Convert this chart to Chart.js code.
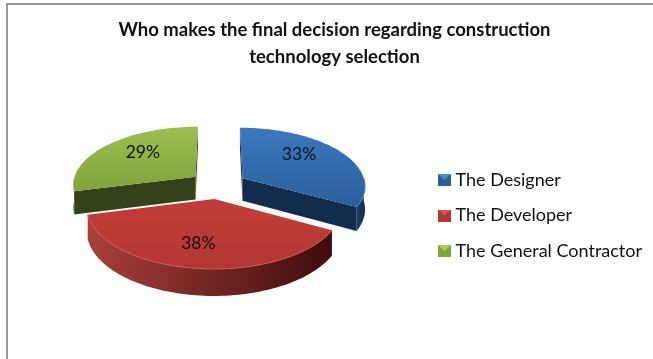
<!DOCTYPE html>
<html>
<head>
<meta charset="utf-8">
<script src="https://cdn.jsdelivr.net/npm/chart.js@4"></script>
<style>
    html, body { margin: 0; background: #fff; }
    canvas { display: block; }
</style>
</head>
<body>
<canvas id="canvas1" width="653" height="359"></canvas>
<script>
var categories = ["The Designer", "The Developer", "The General Contractor"];
var shares = [33, 38, 29];
var titleLines = ["Who makes the final decision regarding construction", "technology selection"];

// top, top-front, side wall, radial wall and rim for each slice
var topColors = [["#3a78bd", "#2c5f9b"], ["#bf3c38", "#b23733"], ["#9cbf4e", "#7fa43f"]];
var wallColors = [["#1b3d6b", "#132c4e"], ["#a8403b", "#3f0c0c"], ["#3b4c1d", "#33421a"]];
var sideColors = ["#132c4e", "#4a1311", "#33421a"];
var rimColors = ["#4a8ace", "#dc5650", "#a9cc5c"];

// the tilted disc: centre, half axes, perspective strength, wall height
var disc = { cx: 218, cy: 185, kx: 123, ky: 58, persp: 0.12, depth: 23, explode: 0.235 };
// hand placement of the percent labels around their default spot
var labelNudge = [[-5, -7], [-5, 4], [3, -4]];

function project(x, y, drop) {
    var f = 1 / (1 - disc.persp * y);
    return {
        x: disc.cx + disc.kx * x * f,
        y: disc.cy + disc.ky * y * f + (drop ? disc.depth * f : 0)
    };
}

// chart.js angles start at -PI/2, so add PI/2 to measure clockwise from the top
function slicePoint(mid, angle, r, drop) {
    var a = angle + Math.PI / 2, m = mid + Math.PI / 2;
    return project(
        r * Math.sin(a) + disc.explode * Math.sin(m),
        -r * Math.cos(a) - disc.explode * Math.cos(m),
        drop
    );
}

function rimPoints(mid, from, to, drop) {
    var pts = [], steps = Math.max(2, Math.ceil((to - from) / 0.03));
    for (var i = 0; i <= steps; i++) {
        pts.push(slicePoint(mid, from + (to - from) * i / steps, 1, drop));
    }
    return pts;
}

function tracePath(ctx, pts) {
    ctx.beginPath();
    pts.forEach(function(p, i) {
        if (i) ctx.lineTo(p.x, p.y); else ctx.moveTo(p.x, p.y);
    });
    ctx.closePath();
}

function drawSlice(ctx, arc, i) {
    var mid = (arc.startAngle + arc.endAngle) / 2;
    var apex = slicePoint(mid, mid, 0, false), apexLow = slicePoint(mid, mid, 0, true);
    var rim = rimPoints(mid, arc.startAngle, arc.endAngle, false);
    var first = rim[0], last = rim[rim.length - 1];

    // radial walls, only the ones that face the viewer
    ctx.fillStyle = sideColors[i];
    if (first.x < apex.x) {
        tracePath(ctx, [apex, first, slicePoint(mid, arc.startAngle, 1, true), apexLow]);
        ctx.fill();
    }
    if (last.x > apex.x) {
        tracePath(ctx, [apex, last, slicePoint(mid, arc.endAngle, 1, true), apexLow]);
        ctx.fill();
    }

    // outer wall, front half of the disc only
    var from = Math.max(arc.startAngle, 0), to = Math.min(arc.endAngle, Math.PI);
    if (to > from) {
        var upper = rimPoints(mid, from, to, false);
        var lower = rimPoints(mid, from, to, true).reverse();
        var xs = upper.map(function(p) { return p.x; });
        var grad = ctx.createLinearGradient(Math.max.apply(null, xs), 0, Math.min.apply(null, xs), 0);
        grad.addColorStop(0, wallColors[i][1]);
        grad.addColorStop(1, wallColors[i][0]);
        ctx.fillStyle = grad;
        tracePath(ctx, upper.concat(lower));
        ctx.fill();
    }

    // top face
    var ys = rim.map(function(p) { return p.y; });
    var faceGrad = ctx.createLinearGradient(0, Math.min.apply(null, ys), 0, Math.max.apply(null, ys));
    faceGrad.addColorStop(0, topColors[i][0]);
    faceGrad.addColorStop(1, topColors[i][1]);
    ctx.fillStyle = faceGrad;
    tracePath(ctx, [apex].concat(rim));
    ctx.fill();

    // lit edge along the rim where it meets the wall
    if (to > from) {
        var lit = rimPoints(mid, from, to, false);
        ctx.strokeStyle = rimColors[i];
        ctx.lineWidth = 1;
        ctx.beginPath();
        lit.forEach(function(p, n) {
            if (n) ctx.lineTo(p.x, p.y); else ctx.moveTo(p.x, p.y);
        });
        ctx.stroke();
    }
}

var tiltedPie = {
    id: "tiltedPie",
    beforeDraw: function(chart) {
        var ctx = chart.ctx;
        ctx.save();
        ctx.fillStyle = "#fff";
        ctx.fillRect(0, 0, chart.width, chart.height);
        // outer frame, open at the bottom
        ctx.strokeStyle = "#979797";
        ctx.lineWidth = 2;
        ctx.beginPath();
        ctx.moveTo(7, chart.height);
        ctx.lineTo(7, 4);
        ctx.lineTo(chart.width, 4);
        ctx.stroke();
        ctx.restore();
    },
    beforeDatasetDraw: function(chart, args) {
        var ctx = chart.ctx, arcs = args.meta.data;
        ctx.save();
        // back slices first so the front one covers them
        [0, 2, 1].forEach(function(i) {
            drawSlice(ctx, arcs[i], i);
        });
        ctx.fillStyle = "#111";
        ctx.font = "17.5px Lato";
        ctx.textAlign = "center";
        ctx.textBaseline = "middle";
        arcs.forEach(function(arc, i) {
            var mid = (arc.startAngle + arc.endAngle) / 2;
            var p = slicePoint(mid, mid, 0.62, false);
            ctx.fillText(shares[i] + "%", p.x + labelNudge[i][0], p.y + labelNudge[i][1]);
        });
        ctx.restore();
        return false;
    }
};

function legendSwatch(i) {
    var c = document.createElement("canvas");
    c.width = 13; c.height = 12;
    var g = c.getContext("2d");
    g.fillStyle = topColors[i][1];
    g.fillRect(0, 0, 13, 12);
    g.fillStyle = rimColors[i];
    g.beginPath();
    g.moveTo(0, 0); g.lineTo(13, 0); g.lineTo(6.5, 6);
    g.closePath();
    g.fill();
    return c;
}

new Chart(document.getElementById("canvas1"), {
    type: "pie",
    plugins: [tiltedPie],
    data: {
        labels: categories,
        datasets: [{
            data: shares,
            backgroundColor: topColors.map(function(c) { return c[0]; }),
            borderWidth: 0
        }]
    },
    options: {
        responsive: false,
        animation: false,
        layout: { padding: { left: 17, top: 15, right: 1, bottom: 0 } },
        plugins: {
            tooltip: { enabled: false },
            title: {
                display: true,
                text: titleLines,
                color: "#111",
                font: { family: "Lato", size: 18.5, weight: "bold", lineHeight: 1.46 },
                padding: { top: 2, bottom: 1 }
            },
            legend: {
                position: "right",
                fullSize: false,
                labels: {
                    color: "#111",
                    font: { family: "Lato", size: 18 },
                    usePointStyle: true,
                    boxWidth: 4,
                    boxHeight: 12,
                    padding: 17.5,
                    generateLabels: function(chart) {
                        return categories.map(function(name, i) {
                            return {
                                text: name,
                                fontColor: "#111",
                                pointStyle: legendSwatch(i),
                                lineWidth: 0,
                                strokeStyle: "transparent",
                                hidden: false,
                                index: i
                            };
                        });
                    }
                }
            }
        }
    }
});
</script>
</body>
</html>
